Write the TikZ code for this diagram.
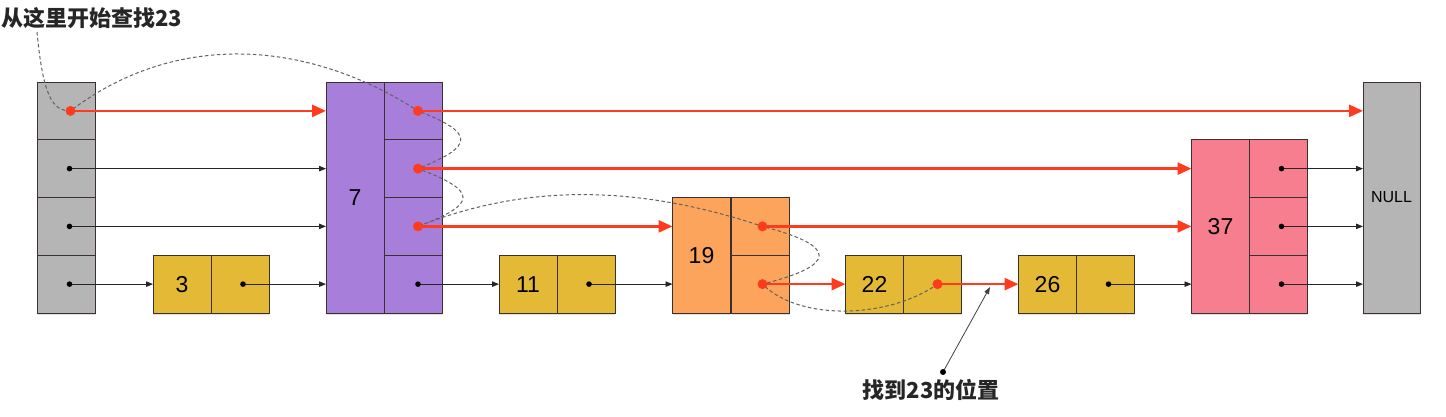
\documentclass[tikz,border=0pt]{standalone}
\usepackage{fontspec}
\setmainfont{Liberation Sans}
\newfontfamily\cjk{Noto Sans CJK SC}
\usetikzlibrary{arrows.meta,shadows}
\definecolor{hgray}{HTML}{B5B5B5}
\definecolor{purp}{HTML}{A87EDB}
\definecolor{orng}{HTML}{FCA45C}
\definecolor{gold}{HTML}{E3B935}
\definecolor{pink}{HTML}{F67E8F}
\definecolor{redA}{HTML}{FF3B1E}
\definecolor{edge}{HTML}{3A3030}
\begin{document}
\begin{tikzpicture}[x=1pt,y=-1pt,
  cell/.style={draw=edge, line width=0.9pt, minimum width=58pt, minimum height=57.75pt,
    inner sep=0pt, outer sep=0pt, font=\fontsize{23}{23}\selectfont,
    drop shadow={shadow xshift=0pt, shadow yshift=-2pt, opacity=0.12, fill=black}},
  redarrow/.style={draw=redA, line width=2.6pt, -{Triangle[length=14pt,width=12pt]}},
  blkarrow/.style={draw=black!85, line width=0.8pt, -{Triangle[length=7pt,width=5.5pt]}},
  trail/.style={draw=black!62, line width=1pt, dash pattern=on 3.5pt off 2.5pt},
  rdot/.style={fill=redA},
  bdot/.style={fill=black}]
\useasboundingbox (0,0) rectangle (1446,416);

% head
\node[cell, fill=hgray] (h1) at (66.5,110.875) {};
\node[cell, fill=hgray] (h2) at (66.5,168.625) {};
\node[cell, fill=hgray] (h3) at (66.5,226.375) {};
\node[cell, fill=hgray] (h4) at (66.5,284.125) {};
% node 3
\node[cell, fill=gold] (v3) at (182,284.125) {3};
\node[cell, fill=gold] (p3) at (240,284.125) {};
% node 7
\node[cell, fill=purp, minimum height=231pt] (v7) at (355,197.5) {7};
\node[cell, fill=purp] (p7a) at (413,110.875) {};
\node[cell, fill=purp] (p7b) at (413,168.625) {};
\node[cell, fill=purp] (p7c) at (413,226.375) {};
\node[cell, fill=purp] (p7d) at (413,284.125) {};
% node 11
\node[cell, fill=gold] (v11) at (528,284.125) {11};
\node[cell, fill=gold] (p11) at (586,284.125) {};
% node 19
\node[cell, fill=orng, minimum height=115.5pt] (v19) at (701.5,255.25) {19};
\node[cell, fill=orng] (p19a) at (760.5,226.375) {};
\node[cell, fill=orng] (p19b) at (760.5,284.125) {};
% node 22
\node[cell, fill=gold] (v22) at (874.5,284.125) {22};
\node[cell, fill=gold] (p22) at (932.5,284.125) {};
% node 26
\node[cell, fill=gold] (v26) at (1047.5,284.125) {26};
\node[cell, fill=gold] (p26) at (1105.5,284.125) {};
% node 37
\node[cell, fill=pink, minimum height=173.25pt] (v37) at (1220.5,226.375) {37};
\node[cell, fill=pink] (p37a) at (1278.5,168.625) {};
\node[cell, fill=pink] (p37b) at (1278.5,226.375) {};
\node[cell, fill=pink] (p37c) at (1278.5,284.125) {};
% NULL
\node[cell, fill=hgray, minimum width=57pt, minimum height=231pt, font=\fontsize{16}{16}\selectfont] (null) at (1391.5,197.5) {NULL};

% dot coordinates
\coordinate (dh1) at ([xshift=4pt]h1.center);
\coordinate (dh2) at ([xshift=3pt]h2.center);
\coordinate (dh3) at ([xshift=3pt]h3.center);
\coordinate (dh4) at ([xshift=3pt]h4.center);
\coordinate (d3) at ([xshift=3pt]p3.center);
\coordinate (d7a) at ([xshift=5pt]p7a.center);
\coordinate (d7b) at ([xshift=5pt]p7b.center);
\coordinate (d7c) at ([xshift=5pt]p7c.center);
\coordinate (d7d) at ([xshift=5pt]p7d.center);
\coordinate (d11) at ([xshift=3pt]p11.center);
\coordinate (d19a) at ([xshift=2pt]p19a.center);
\coordinate (d19b) at ([xshift=2pt]p19b.center);
\coordinate (d22) at ([xshift=5pt]p22.center);
\coordinate (d26) at ([xshift=3pt]p26.center);
\coordinate (d37a) at ([xshift=3pt]p37a.center);
\coordinate (d37b) at ([xshift=3pt]p37b.center);
\coordinate (d37c) at ([xshift=3pt]p37c.center);

% black arrows
\draw[blkarrow] (dh2) -- (dh2 -| v7.west);
\draw[blkarrow] (dh3) -- (dh3 -| v7.west);
\draw[blkarrow] (dh4) -- (dh4 -| v3.west);
\draw[blkarrow] (d3) -- (d3 -| v7.west);
\draw[blkarrow] (d7d) -- (d7d -| v11.west);
\draw[blkarrow] (d11) -- (d11 -| v19.west);
\draw[blkarrow] (d26) -- (d26 -| v37.west);
\draw[blkarrow] (d37a) -- (d37a -| null.west);
\draw[blkarrow] (d37b) -- (d37b -| null.west);
\draw[blkarrow] (d37c) -- (d37c -| null.west);

% red arrows
\draw[redarrow] (dh1) -- (dh1 -| v7.west);
\draw[redarrow] (d7a) -- (d7a -| null.west);
\draw[redarrow] (d7b) -- (d7b -| v37.west);
\draw[redarrow] (d7c) -- (d7c -| v19.west);
\draw[redarrow] (d19a) -- (d19a -| v37.west);
\draw[redarrow] (d19b) -- (d19b -| v22.west);
\draw[redarrow] (d22) -- (d22 -| v26.west);

% labels
\node[anchor=west, inner sep=0pt, font=\cjk\bfseries\fontsize{22}{22}\selectfont, text=black!85] (title) at (1,18) {从这里开始查找23};
\node[inner sep=0pt, font=\cjk\bfseries\fontsize{22}{22}\selectfont, text=black!85] (found) at (931,390) {找到23的位置};
\coordinate (tstart) at (37,32);
\coordinate (fdot) at (943,372);
\coordinate (ftip) at (990,287);

% search trail
\draw[trail] (tstart) .. controls (43,95) and (52,111) .. (dh1)
  .. controls (170,35) and (300,35) .. (d7a)
  .. controls (475,133) and (475,146) .. (d7b)
  .. controls (478,191) and (478,204) .. (d7c)
  .. controls (520,186) and (630,182) .. (d19a)
  .. controls (838,246) and (838,265) .. (d19b)
  .. controls (800,322) and (890,318) .. (d22);

% pointer to 23 position
\draw[line width=0.8pt, draw=black!75, -{Triangle[length=7pt,width=5pt]}] (fdot) -- (ftip);
\fill[black] (fdot) circle (3pt);

% dots
\foreach \d in {dh1,d7a,d7b,d7c,d19a,d19b,d22} \fill[rdot] (\d) circle (5pt);
\foreach \d in {dh2,dh3,dh4,d3,d7d,d11,d26,d37a,d37b,d37c} \fill[bdot] (\d) circle (2.8pt);
\end{tikzpicture}
\end{document}
